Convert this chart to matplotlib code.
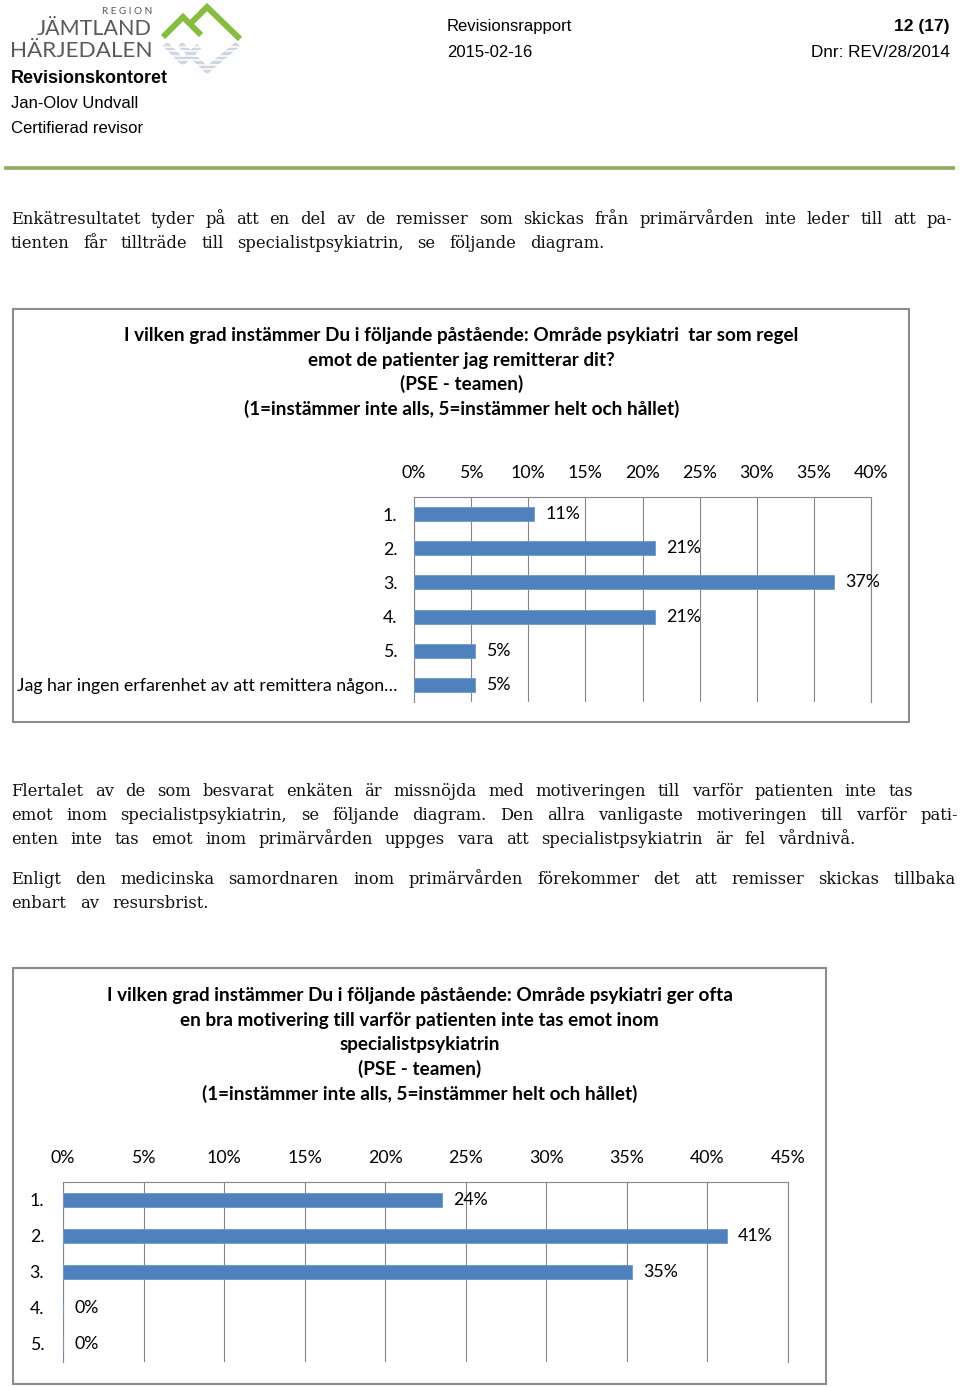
import numpy as np
import matplotlib
matplotlib.use("Agg")
import matplotlib.pyplot as plt
from matplotlib.patches import Rectangle

W, H = 960, 1387

# ---------------- data ----------------
para1 = [
    "Enkätresultatet tyder på att en del av de remisser som skickas från primärvården inte leder till att pa-",
    "tienten får tillträde till specialistpsykiatrin, se följande diagram.",
]
para2 = [
    "Flertalet av de som besvarat enkäten är missnöjda med motiveringen till varför patienten inte tas",
    "emot inom specialistpsykiatrin, se följande diagram. Den allra vanligaste motiveringen till varför pati-",
    "enten inte tas emot inom primärvården uppges vara att specialistpsykiatrin är fel vårdnivå.",
    "Enligt den medicinska samordnaren inom primärvården förekommer det att remisser skickas tillbaka",
    "enbart av resursbrist.",
]

chart1_title = [
    "I vilken grad instämmer Du i följande påstående: Område psykiatri  tar som regel",
    "emot de patienter jag remitterar dit?",
    "(PSE - teamen)",
    "(1=instämmer inte alls, 5=instämmer helt och hållet)",
]
chart1_categories = ["1.", "2.", "3.", "4.", "5.",
                     "Jag har ingen erfarenhet av att remittera någon…"]
chart1_values = [10.5, 21.1, 36.8, 21.1, 5.3, 5.3]
chart1_labels = ["11%", "21%", "37%", "21%", "5%", "5%"]
chart1_ticks = [0, 5, 10, 15, 20, 25, 30, 35, 40]

chart2_title = [
    "I vilken grad instämmer Du i följande påstående: Område psykiatri ger ofta",
    "en bra motivering till varför patienten inte tas emot inom",
    "specialistpsykiatrin",
    "(PSE - teamen)",
    "(1=instämmer inte alls, 5=instämmer helt och hållet)",
]
chart2_categories = ["1.", "2.", "3.", "4.", "5."]
chart2_values = [23.5, 41.2, 35.3, 0.0, 0.0]
chart2_labels = ["24%", "41%", "35%", "0%", "0%"]
chart2_ticks = [0, 5, 10, 15, 20, 25, 30, 35, 40, 45]

# ---------------- figure ----------------
fig = plt.figure(figsize=(W / 100, H / 100), dpi=100)
bg = fig.add_axes([0, 0, 1, 1])
bg.set_xlim(0, W)
bg.set_ylim(H, 0)
bg.axis("off")
renderer = fig.canvas.get_renderer()

SANS = "Liberation Sans"
SERIF = "DejaVu Serif"
CHART = "Lato"
GREY_TXT = "#58595b"
LBL = 12.8
TTL = 13.6

# ---- logo ----
bg.text(152, 14, "R E G I O N", family=CHART, fontsize=7.2, color=GREY_TXT,
        ha="right", va="baseline")
bg.text(152, 35, "JÄMTLAND", family=CHART, fontsize=15.5, color=GREY_TXT,
        ha="right", va="baseline")
bg.text(152, 57, "HÄRJEDALEN", family=CHART, fontsize=16.2, color=GREY_TXT,
        ha="right", va="baseline")
green = "#86bc3f"
refl = "#cdd6e1"
bg.plot([163, 183, 201], [37, 17, 35], color=green, lw=4.3,
        solid_joinstyle="miter", solid_capstyle="butt")
bg.plot([191, 207, 240], [23, 7, 39], color=green, lw=4.3,
        solid_joinstyle="miter", solid_capstyle="butt")
bg.plot([165, 183, 199], [44, 62, 46], color=refl, lw=4.5,
        solid_joinstyle="miter", solid_capstyle="butt")
bg.plot([180, 207, 238], [44, 70, 44], color=refl, lw=4.5,
        solid_joinstyle="miter", solid_capstyle="butt")
for yy in np.arange(42, 74, 4.5):
    bg.plot([158, 245], [yy, yy], color="white", lw=1.1)

# ---- header texts ----
bg.text(11, 83, "Revisionskontoret", family=SANS, fontsize=12.9,
        weight="bold", va="baseline")
bg.text(11, 108, "Jan-Olov Undvall", family=SANS, fontsize=12, va="baseline")
bg.text(11, 133, "Certifierad revisor", family=SANS, fontsize=12, va="baseline")
bg.text(447, 31, "Revisionsrapport", family=SANS, fontsize=12, va="baseline")
bg.text(447, 57, "2015-02-16", family=SANS, fontsize=12, va="baseline")
bg.text(950, 31, "12 (17)", family=SANS, fontsize=12.5, weight="bold",
        ha="right", va="baseline")
bg.text(950, 57, "Dnr: REV/28/2014", family=SANS, fontsize=12.3,
        ha="right", va="baseline")
bg.plot([4, 955], [168, 168], color="#8aac5c", lw=2.6, solid_capstyle="butt")


# ---- justified body text (word placement) ----
def place_line(line, x0, x1, yb, size=11.8):
    words = line.split(" ")
    ts = [bg.text(0, yb, w, family=SERIF, fontsize=size, va="baseline",
                  ha="left", color="#111111") for w in words]
    widths = [t.get_window_extent(renderer).width for t in ts]
    if len(words) > 1:
        gap = (x1 - x0 - sum(widths)) / (len(words) - 1)
    else:
        gap = 0
    x = x0
    for t, w in zip(ts, widths):
        t.set_x(x)
        x += w + gap


p1_right = [952, 604]
p1_base = [224, 248]
for line, xr, yb in zip(para1, p1_right, p1_base):
    place_line(line, 11, xr, yb)

p2_right = [913, 958, 855, 956, 209]
p2_base = [796, 820, 844, 884, 908]
for line, xr, yb in zip(para2, p2_right, p2_base):
    place_line(line, 11, xr, yb)

# ---- chart boxes ----
bg.add_patch(Rectangle((13, 309), 896, 413, fill=False, ec="#8c8c8c", lw=1.5))
bg.add_patch(Rectangle((13, 968), 813, 416, fill=False, ec="#8c8c8c", lw=1.5))

for i, s in enumerate(chart1_title):
    bg.text(461.5, 341 + i * 24.7, s, family=CHART, fontsize=TTL, weight="bold",
            ha="center", va="baseline")
for i, s in enumerate(chart2_title):
    bg.text(419.5, 1001 + i * 24.7, s, family=CHART, fontsize=TTL, weight="bold",
            ha="center", va="baseline")


def make_chart(px, cats, vals, labels, ticks, ypad, barh):
    left, top, right, bottom = px
    ax = fig.add_axes([left / W, 1 - bottom / H, (right - left) / W,
                       (bottom - top) / H])
    ax.set_facecolor("none")
    y = np.arange(len(cats))
    ax.barh(y, vals, height=barh, color="#4f81bd", edgecolor="#6f98cc",
            lw=0.6, zorder=3)
    ax.set_xlim(ticks[0], ticks[-1])
    ax.set_ylim(len(cats) - 0.5, -0.5)
    ax.set_xticks(ticks)
    ax.set_xticklabels([f"{t}%" for t in ticks], family=CHART, fontsize=LBL)
    ax.set_yticks(y)
    ax.set_yticklabels(cats, family=CHART, fontsize=LBL)
    ax.xaxis.tick_top()
    ax.tick_params(axis="x", length=0, pad=11.5)
    ax.tick_params(axis="y", length=0, pad=ypad)
    ax.grid(axis="x", color="#868686", lw=0.8, zorder=0)
    ax.set_axisbelow(True)
    ax.spines["bottom"].set_visible(False)
    for s in ["top", "left", "right"]:
        ax.spines[s].set_color("#868686")
        ax.spines[s].set_linewidth(0.8)
    for yi, v, lab in zip(y, vals, labels):
        ax.annotate(lab, (v, yi), xytext=(8, 0), textcoords="offset points",
                    va="center", ha="left", family=CHART, fontsize=LBL)
    return ax


make_chart((414, 497, 871, 702), chart1_categories, chart1_values,
           chart1_labels, chart1_ticks, 12, 0.41)
make_chart((63, 1182, 788, 1362), chart2_categories, chart2_values,
           chart2_labels, chart2_ticks, 13.5, 0.39)

fig.savefig("out.png", dpi=100)
